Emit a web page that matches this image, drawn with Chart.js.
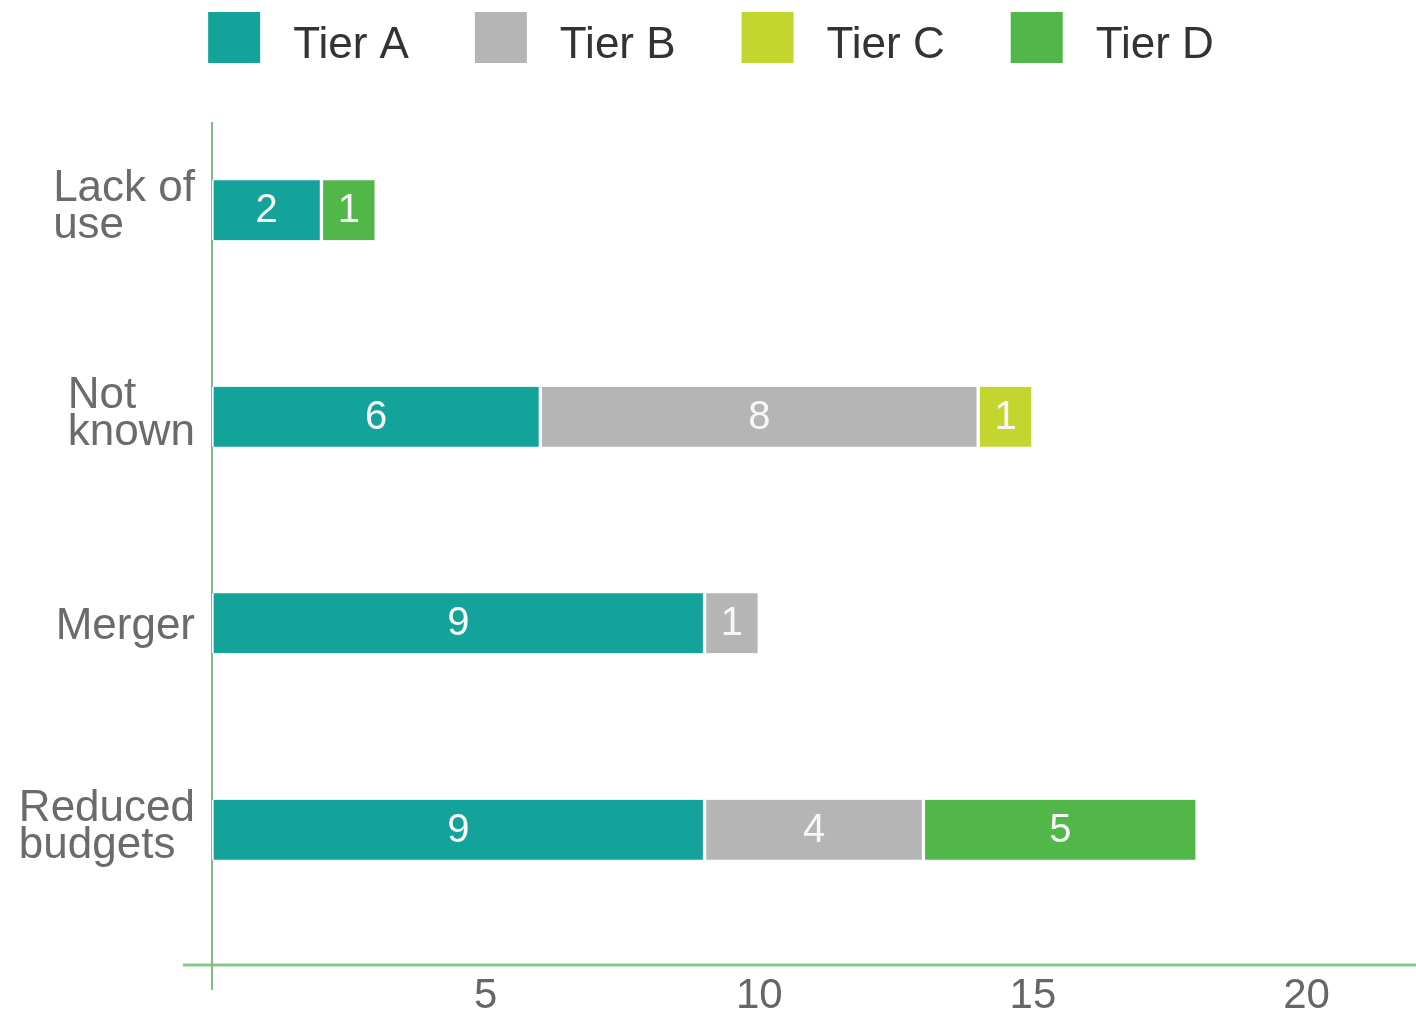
<!DOCTYPE html>
<html><head><meta charset="utf-8">
<script src="https://cdn.jsdelivr.net/npm/chart.js@4.4.1/dist/chart.umd.min.js"></script>
<style>html,body{margin:0;padding:0;background:#fff;} #wrap{width:1416px;height:1015px;position:relative;}</style>
</head><body><div id="wrap"><canvas id="c"></canvas></div>
<script>
const categories = [["Lack of","use"],["Not","known"],["Merger"],["Reduced","budgets"]];
const seriesNames = ["Tier A","Tier B","Tier C","Tier D"];
const tierA = [2, 6, 9, 9];
const tierB = [null, 8, 1, 4];
const tierC = [null, 1, null, null];
const tierD = [1, null, null, 5];
const tickLabels = [5, 10, 15, 20];
const seriesColors = ["#14a39a", "#b5b5b5", "#c3d630", "#50b748"];

const FONT = '"Liberation Sans", Arial, Helvetica, sans-serif';

const legendPlugin = {
  id: 'customLegend',
  afterDraw(chart) {
    const ctx = chart.ctx;
    const box = 52, gapText = 33, gapItem = 66;
    ctx.save();
    ctx.font = '44px ' + FONT;
    const items = chart.data.datasets.map(d => ({ text: d.label, color: d.backgroundColor, w: ctx.measureText(d.label).width }));
    let total = 0;
    items.forEach((it, i) => { total += box + gapText + it.w + (i < items.length - 1 ? gapItem : 0); });
    let x = chart.width / 2 - total / 2 + 3;
    items.forEach(it => {
      ctx.fillStyle = it.color;
      ctx.fillRect(x, 12, box, box - 1);
      ctx.fillStyle = '#333333';
      ctx.textBaseline = 'alphabetic';
      ctx.textAlign = 'left';
      ctx.fillText(it.text, x + box + gapText, 58);
      x += box + gapText + it.w + gapItem;
    });
    ctx.restore();
  }
};

const axisLinesPlugin = {
  id: 'axisLines',
  beforeDatasetsDraw(chart) {
    const ctx = chart.ctx, a = chart.chartArea;
    const x0 = chart.scales.x.getPixelForValue(0);
    ctx.save();
    ctx.strokeStyle = '#86c986';
    ctx.lineWidth = 3;
    ctx.beginPath();
    ctx.moveTo(a.left - 29, a.bottom + 32);
    ctx.lineTo(chart.width, a.bottom + 32);
    ctx.stroke();
    ctx.strokeStyle = '#84b884';
    ctx.lineWidth = 2;
    ctx.beginPath();
    ctx.moveTo(x0, a.top + 15);
    ctx.lineTo(x0, a.bottom + 57);
    ctx.stroke();
    ctx.restore();
  }
};

const yLabelPlugin = {
  id: 'yLabels',
  afterDraw(chart) {
    const ctx = chart.ctx, a = chart.chartArea, ys = chart.scales.y;
    const lh = 37, capH = 31;
    ctx.save();
    ctx.font = '44px ' + FONT;
    ctx.fillStyle = '#6b6b6b';
    ctx.textAlign = 'left';
    ctx.textBaseline = 'alphabetic';
    categories.forEach((lines, i) => {
      const c = ys.getPixelForValue(i);
      const maxW = Math.max(...lines.map(l => ctx.measureText(l).width));
      const left = a.left - 17 - maxW;
      const n = lines.length;
      lines.forEach((l, j) => {
        const base = c + capH / 2 + (j - (n - 1) / 2) * lh - (n > 1 ? 6 : 0);
        ctx.fillText(l, left, base);
      });
    });
    ctx.restore();
  }
};

const valueLabelPlugin = {
  id: 'valueLabels',
  afterDatasetsDraw(chart) {
    const ctx = chart.ctx;
    ctx.save();
    ctx.font = '40px ' + FONT;
    ctx.fillStyle = '#f7f7f7';
    ctx.textAlign = 'center';
    ctx.textBaseline = 'alphabetic';
    chart.data.datasets.forEach((ds, di) => {
      const meta = chart.getDatasetMeta(di);
      meta.data.forEach((el, i) => {
        const v = ds.data[i];
        if (v === null || v === undefined) return;
        const p = el.getProps(['x', 'y', 'base'], true);
        ctx.fillText(String(v), (p.x + p.base) / 2, p.y + 12);
      });
    });
    ctx.restore();
  }
};

const seriesData = [tierA, tierB, tierC, tierD];
const datasets = seriesNames.map((name, i) => ({
  label: name,
  data: seriesData[i],
  backgroundColor: seriesColors[i],
  borderColor: '#ffffff',
  borderWidth: { left: 2, right: 2, top: 0, bottom: 0 },
  borderSkipped: false,
  barThickness: 60
}));

new Chart(document.getElementById('c'), {
  type: 'bar',
  data: { labels: categories, datasets },
  options: {
    indexAxis: 'y',
    responsive: true,
    maintainAspectRatio: false,
    animation: false,
    devicePixelRatio: 1,
    layout: { padding: { top: 107, left: 0, right: 0, bottom: 0 } },
    plugins: { legend: { display: false }, tooltip: { enabled: false } },
    scales: {
      x: {
        type: 'linear', stacked: true, min: 0, max: 22,
        grid: { display: false, drawTicks: false },
        border: { display: false },
        ticks: {
          stepSize: 5, autoSkip: false, maxRotation: 0, padding: 38,
          color: '#666666', font: { size: 42, family: FONT },
          callback: v => tickLabels.includes(v) ? String(v) : ''
        },
        afterFit(s) { s.height = 82; s.paddingLeft = 0; s.paddingRight = 0; }
      },
      y: {
        type: 'category', stacked: true,
        grid: { display: false, drawTicks: false },
        border: { display: false },
        ticks: { display: false },
        afterFit(s) { s.width = 212; }
      }
    }
  },
  plugins: [legendPlugin, axisLinesPlugin, yLabelPlugin, valueLabelPlugin]
});
</script></body></html>
